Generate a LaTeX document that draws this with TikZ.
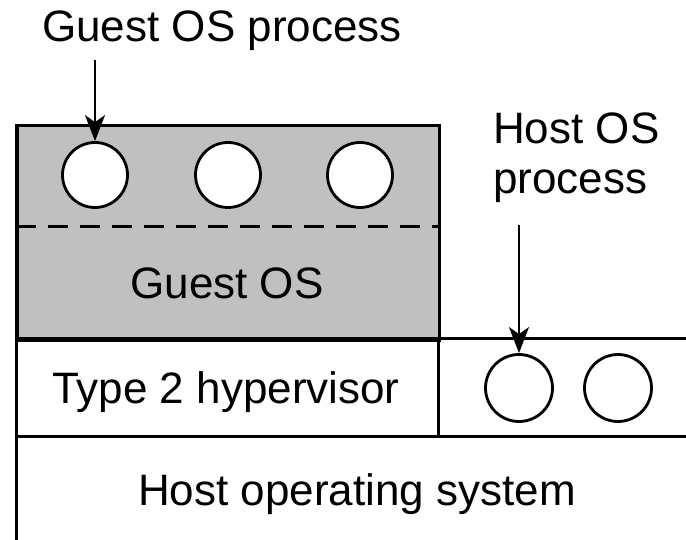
\documentclass[tikz,border=0pt]{standalone}
\usepackage{fontspec}
\setmainfont{Liberation Sans}
\usetikzlibrary{arrows.meta}
\definecolor{guestgray}{RGB}{192,192,192}
\begin{document}
\begin{tikzpicture}[x=1pt,y=-1pt,
  wall/.style={line width=3pt},
  proc/.style={circle,draw,line width=2.8pt,fill=white,minimum size=65pt,inner sep=0pt},
  lbl/.style={font=\fontsize{44}{50}\selectfont,inner sep=0pt},
  pointer/.style={line width=2.2pt,-{Stealth[length=26pt,width=20pt,inset=7pt]}},
  dashline/.style={line width=3pt,dash pattern=on 20pt off 12pt}]
\useasboundingbox (0,0) rectangle (686,540);
% guest OS area
\node[draw,wall,fill=guestgray,anchor=north west,minimum width=422pt,minimum height=215pt,inner sep=0pt] (guest) at (16,124) {};
\draw[dashline] (16,227) -- (438,227);
% layers
\draw[wall] (16,339) -- (686,339);
\draw[wall] (16,436) -- (686,436);
\draw[wall] (16,124) -- (16,540);
\draw[wall] (438,339) -- (438,436);
% processes
\node[proc] (g1) at (95,175) {};
\node[proc] (g2) at (228,175) {};
\node[proc] (g3) at (360,175) {};
\node[proc,minimum size=67pt] (h1) at (519,388) {};
\node[proc,minimum size=67pt] (h2) at (618,388) {};
% texts
\node[lbl,anchor=base] (glbl) at (222,42) {Guest OS process};
\node[lbl,anchor=north west,align=left] (hlbl) at (493,113) {Host OS\\process};
\node[lbl,anchor=base] (gos) at (227,299) {Guest OS};
\node[lbl,anchor=base] (hyp) at (226,403) {Type 2 hypervisor};
\node[lbl,anchor=base] (hos) at (357,505) {Host operating system};
% pointers
\draw[pointer,shorten <=9pt] (glbl.south -| g1.north) -- (g1.north);
\draw[pointer,shorten <=22pt] (hlbl.south -| h1.north) -- (h1.north);
\end{tikzpicture}
\end{document}
